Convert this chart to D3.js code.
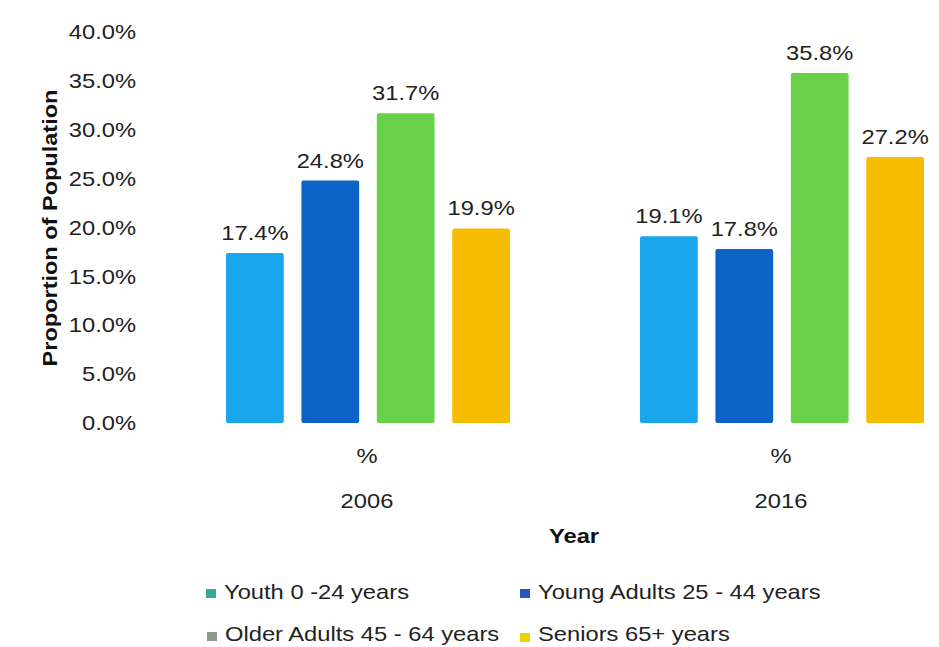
<!DOCTYPE html>
<html>
<head>
<meta charset="utf-8">
<script src="https://cdn.jsdelivr.net/npm/d3@7"></script>
<style>
  body { margin: 0; background: #fff; }
  text { font-family: "Liberation Sans", Arial, sans-serif; }
</style>
</head>
<body>
<svg id="chart" width="939" height="647"></svg>
<script>
// data
var years = ["2006", "2016"];
var groups = ["Youth 0 -24 years", "Young Adults 25 - 44 years", "Older Adults 45 - 64 years", "Seniors 65+ years"];
var values2006 = [17.4, 24.8, 31.7, 19.9];
var values2016 = [19.1, 17.8, 35.8, 27.2];
var yTicks = [0, 5, 10, 15, 20, 25, 30, 35, 40];

var barColors = ["#1aa6ec", "#0b63c6", "#69d04a", "#f6bd00"];
var legendColors = ["#37a89c", "#2458b8", "#8c9c8a", "#f0d000"];

// text in the original is a bit wider than Liberation Sans
var sx = 1.13;

var rows = [];
years.forEach(function (yr, i) {
  var vals = i == 0 ? values2006 : values2016;
  groups.forEach(function (g, j) {
    rows.push({ year: yr, group: g, idx: j, value: vals[j] });
  });
});

var svg = d3.select("#chart");

var y = d3.scaleLinear().domain([0, 40]).range([423, 32]);

var x0 = d3.scaleBand().domain(years).range([161, 989]).padding(0);
var x1 = d3.scaleBand().domain(groups).range([65, 349]).paddingInner(0.234).paddingOuter(0);

function label(x, yy, txt, size, bold, anchor) {
  return svg.append("text")
    .attr("transform", "translate(" + x + "," + yy + ") scale(" + sx + ",1)")
    .attr("text-anchor", anchor || "middle")
    .style("font-size", size + "px")
    .style("font-weight", bold ? "bold" : "normal")
    .attr("fill", bold ? "#111" : "#222")
    .text(txt);
}

// y axis (labels only)
var yAxis = svg.append("g")
  .attr("transform", "translate(136,0)")
  .call(d3.axisLeft(y).tickValues(yTicks).tickSize(0).tickPadding(0)
    .tickFormat(function (d) { return d.toFixed(1) + "%"; }));
yAxis.select(".domain").remove();
yAxis.selectAll("text")
  .attr("x", 0)
  .attr("transform", "scale(" + sx + ",1)")
  .style("font-family", "Liberation Sans, Arial, sans-serif")
  .style("font-size", "21px")
  .attr("fill", "#222");

svg.append("text")
  .attr("transform", "translate(57,228) rotate(-90) scale(1.12,1)")
  .attr("text-anchor", "middle")
  .style("font-size", "21px")
  .style("font-weight", "bold")
  .attr("fill", "#111")
  .text("Proportion of Population");

// bars
svg.selectAll(".bar")
  .data(rows)
  .enter()
  .append("rect")
  .attr("class", "bar")
  .attr("x", function (d) { return x0(d.year) + x1(d.group); })
  .attr("y", function (d) { return y(d.value); })
  .attr("width", x1.bandwidth())
  .attr("height", function (d) { return y(0) - y(d.value); })
  .attr("rx", 2)
  .attr("fill", function (d) { return barColors[d.idx]; });

rows.forEach(function (d) {
  var cx = x0(d.year) + x1(d.group) + x1.bandwidth() / 2;
  label(cx, y(d.value) - 13, d.value.toFixed(1) + "%", 21);
});

// x labels
years.forEach(function (yr) {
  var cx = x0(yr) + x0.bandwidth() / 2 - 1;
  label(cx, 463, "%", 21);
  label(cx, 508, yr, 21);
});

label(574, 543, "Year", 21, true);

// legend
var legendPos = [[211, 593], [525, 593], [212, 636], [525, 637]];
groups.forEach(function (g, i) {
  svg.append("rect")
    .attr("x", legendPos[i][0] - 5).attr("y", legendPos[i][1] - 4)
    .attr("width", 10).attr("height", 9)
    .attr("fill", legendColors[i]);
  label(legendPos[i][0] + 13, i < 2 ? 599 : 641, g, 21, false, "start");
});
</script>
</body>
</html>
